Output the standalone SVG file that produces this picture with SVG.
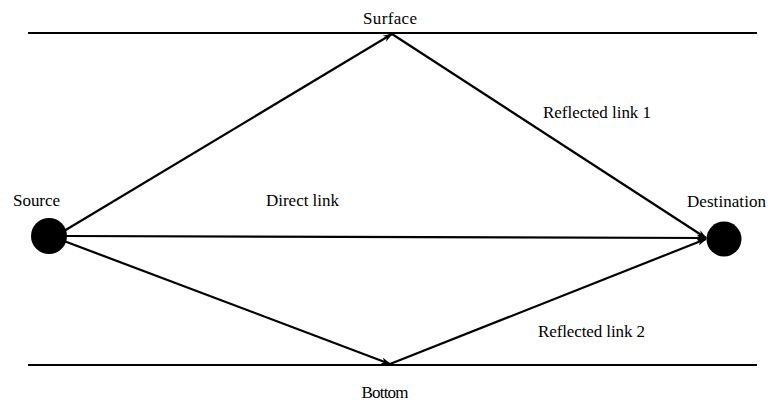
<svg xmlns="http://www.w3.org/2000/svg" width="769" height="403" viewBox="0 0 769 403">
<style>
.t{font-family:"Liberation Serif","DejaVu Serif",serif;font-size:17px;fill:#000}
.ln{stroke:#000;stroke-width:2.2;fill:none}
.c{stroke:#000;stroke-width:2.2;fill:none;marker-end:url(#ah)}
</style>
<defs>
<marker id="ah" viewBox="0 0 10 8" refX="9" refY="4" markerWidth="10" markerHeight="8" markerUnits="userSpaceOnUse" orient="auto">
<path d="M0,0.5 L10,4 L0,7.5 L3,4 Z" fill="#000"/>
</marker>
</defs>
<rect width="769" height="403" fill="#fff"/>
<g id="surface">
<line class="ln" x1="28" y1="33" x2="757" y2="33"/>
<text class="t" x="390" y="24" text-anchor="middle" textLength="54">Surface</text>
</g>
<g id="bottom">
<line class="ln" x1="28" y1="365" x2="757" y2="365"/>
<text class="t" x="385" y="398" text-anchor="middle" textLength="47">Bottom</text>
</g>
<g id="source">
<circle cx="49" cy="236" r="18" fill="#000"/>
<text class="t" x="13" y="206" textLength="47">Source</text>
</g>
<g id="destination">
<circle cx="724" cy="239" r="17.5" fill="#000"/>
<text class="t" x="687" y="207" textLength="79">Destination</text>
</g>
<g id="connectors">
<line class="c" x1="64" y1="231" x2="392" y2="34"/>
<line class="c" x1="392" y1="34" x2="706" y2="238"/>
<line class="c" x1="66" y1="236" x2="706" y2="238"/>
<line class="c" x1="64" y1="241" x2="390" y2="364"/>
<line class="c" x1="390" y1="364" x2="706" y2="239"/>
<text class="t" x="266" y="206" textLength="73">Direct link</text>
<text class="t" x="543" y="118" textLength="108">Reflected link 1</text>
<text class="t" x="538" y="337" textLength="107">Reflected link 2</text>
</g>
</svg>
